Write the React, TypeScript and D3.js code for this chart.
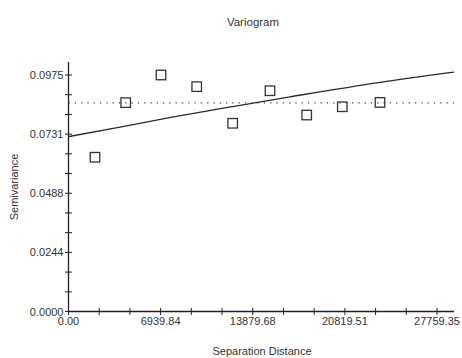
import React from "react";
import * as d3 from "d3";

const W = 462;
const H = 358;

// Experimental variogram (lag distance, semivariance)
const lagDistances = [1996, 4309, 6968, 9657, 12369, 15179, 17944, 20626, 23465];
const semivariances = [0.0636, 0.0861, 0.0975, 0.0927, 0.0776, 0.091, 0.081, 0.0844, 0.0862];

// Fitted model curve
const modelDistances = [0, 3880, 7600, 12920, 16690, 23470, 29040];
const modelValues = [0.0721, 0.076, 0.0799, 0.085, 0.0885, 0.0945, 0.0987];

// Sill (dotted)
const sillValue = 0.086;

// Axis ticks
const xTickValues = [0, 6939.84, 13879.68, 20819.51, 27759.35];
const xTickLabels = ["0.00", "6939.84", "13879.68", "20819.51", "27759.35"];
const yTickValues = [0, 0.024375, 0.04875, 0.073125, 0.0975];
const yTickLabels = ["0.0000", "0.0244", "0.0488", "0.0731", "0.0975"];

const xMax = 29040;
const yMax = 0.10286;

const left = 68.5;
const right = 454;
const top = 62;
const bottom = 311.5;

export default function App() {
  const x = d3.scaleLinear().domain([0, xMax]).range([left, right]);
  const y = d3.scaleLinear().domain([0, yMax]).range([bottom, top]);

  const xMinorStep = xTickValues[1] / 3;
  const xMinor = d3.range(0, xMax, xMinorStep);
  const yMinorStep = yTickValues[1] / 3;
  const yMinor = d3.range(0, yMax, yMinorStep);

  const line = d3
    .line<number>()
    .x((_, i) => x(modelDistances[i]))
    .y((d) => y(d))
    .curve(d3.curveMonotoneX);

  const font = "Arial, 'Liberation Sans', sans-serif";
  const axisColor = "#222";
  const textColor = "#333";
  const sq = 9.5;

  return (
    <svg
      width={W}
      height={H}
      style={{ position: "absolute", left: 0, top: 0, background: "#fff" }}
      fontFamily={font}
    >
      <rect x={0} y={0} width={W} height={H} fill="#fff" />
      <text x={253} y={26} textAnchor="middle" fontSize={11.5} fill={textColor}>
        Variogram
      </text>

      {/* sill */}
      <line
        x1={left}
        x2={right}
        y1={y(sillValue)}
        y2={y(sillValue)}
        stroke="#444"
        strokeWidth={1.2}
        strokeDasharray="1.3,5"
      />

      {/* model */}
      <path d={line(modelValues) || ""} fill="none" stroke="#2a2a2a" strokeWidth={1.3} />

      {/* points */}
      {lagDistances.map((d, i) => (
        <rect
          key={i}
          x={x(d) - sq / 2}
          y={y(semivariances[i]) - sq / 2}
          width={sq}
          height={sq}
          fill="none"
          stroke="#333"
          strokeWidth={1.3}
        />
      ))}

      {/* axes */}
      <line x1={left} x2={left} y1={top} y2={bottom} stroke={axisColor} strokeWidth={1.3} />
      <line x1={left} x2={right} y1={bottom} y2={bottom} stroke={axisColor} strokeWidth={1.3} />

      {xMinor.map((v, i) => (
        <line key={"xm" + i} x1={x(v)} x2={x(v)} y1={bottom - 3.5} y2={bottom + 3.5} stroke={axisColor} strokeWidth={1} />
      ))}
      {yMinor.map((v, i) => (
        <line key={"ym" + i} x1={left - 3.5} x2={left + 3.5} y1={y(v)} y2={y(v)} stroke={axisColor} strokeWidth={1} />
      ))}

      {xTickValues.map((v, i) => (
        <text key={"xl" + i} x={x(v)} y={325} textAnchor="middle" fontSize={11} fill={textColor}>
          {xTickLabels[i]}
        </text>
      ))}
      {yTickValues.map((v, i) => (
        <text key={"yl" + i} x={63.5} y={y(v) + 4} textAnchor="end" fontSize={11} fill={textColor}>
          {yTickLabels[i]}
        </text>
      ))}

      <text x={262} y={355} textAnchor="middle" fontSize={11} fill={textColor}>
        Separation Distance
      </text>
      <text
        transform={`translate(18,187) rotate(-90)`}
        textAnchor="middle"
        fontSize={11}
        fill={textColor}
      >
        Semivariance
      </text>
    </svg>
  );
}
